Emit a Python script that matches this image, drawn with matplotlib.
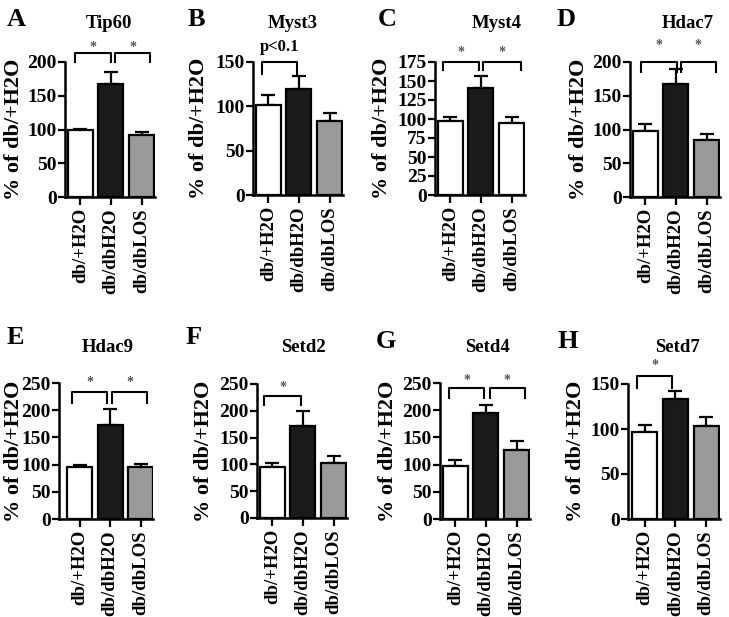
import matplotlib
matplotlib.use('Agg')
import matplotlib.pyplot as plt

plt.rcParams['font.family'] = 'Liberation Serif'
plt.rcParams['font.weight'] = 'bold'

# ---- datos ----
groups = ['db/+H2O', 'db/dbH2O', 'db/dbLOS']
letters = ['A', 'B', 'C', 'D', 'E', 'F', 'G', 'H']
genes = ['Tip60', 'Myst3', 'Myst4', 'Hdac7', 'Hdac9', 'Setd2', 'Setd4', 'Setd7']

tip60 = [99, 167, 92]
tip60_err = [2, 18, 4]
myst3 = [102, 120, 83]
myst3_err = [11, 14, 9]
myst4 = [97, 141, 95]
myst4_err = [6, 15, 8]
hdac7 = [98, 168, 85]
hdac7_err = [10, 21, 9]
hdac9 = [95, 173, 96]
hdac9_err = [5, 29, 6]
setd2 = [95, 171, 102]
setd2_err = [8, 28, 13]
setd4 = [97, 194, 127]
setd4_err = [12, 16, 17]
setd7 = [97, 133, 103]
setd7_err = [8, 9, 10]

means = [tip60, myst3, myst4, hdac7, hdac9, setd2, setd4, setd7]
errs = [tip60_err, myst3_err, myst4_err, hdac7_err, hdac9_err, setd2_err, setd4_err, setd7_err]
ytops = [200, 150, 175, 200, 250, 250, 250, 150]
ysteps = [50, 50, 25, 50, 50, 50, 50, 50]

# corchetes: (x1, x2, y_patas, y_barra, texto, y_texto)
brackets = [
    [(-0.17, 1.0, 200, 213, '*', 222), (1.14, 2.29, 200, 213, '*', 222)],
    [(-0.2, 0.94, 136, 150, 'p<0.1', 158)],
    [(-0.24, 0.95, 164, 175, '*', 187), (1.08, 2.3, 164, 175, '*', 187)],
    [(-0.15, 1.02, 185, 200, '*', 225), (1.15, 2.32, 185, 200, '*', 225)],
    [(-0.25, 0.9, 214, 233, '*', 250), (1.07, 2.22, 214, 233, '*', 250)],
    [(-0.27, 0.95, 211, 228, '*', 244)],
    [(-0.2, 0.95, 223, 241, '*', 255), (1.12, 2.27, 223, 241, '*', 255)],
    [(-0.25, 0.9, 146, 159, '*', 171)],
]

W, H = 729, 617
fig = plt.figure(figsize=(W / 100, H / 100), dpi=100)

# posiciones en pixeles: (izq, arriba, abajo, ancho, xmin)
pos = [(65, 62, 197, 90, -0.5), (253, 62, 195, 90, -0.5),
       (435, 62, 195, 90, -0.5), (630, 62, 197, 90, -0.5),
       (59, 383, 519, 94, -0.67), (257, 384, 518, 90, -0.5),
       (440, 383, 519, 90, -0.5), (628, 384, 519, 92, -0.55)]
# borde derecho de la etiqueta del eje y
ylab_x = [24, 209, 392, 589, 24, 214, 398, 586]
letter_xy = [(16, 20), (196, 20), (387, 20), (566, 20),
             (15, 337), (194, 337), (386, 342), (568, 342)]
title_xy = [(109, 23), (293, 23), (497, 23), (688, 23),
            (108, 347), (303, 347), (487, 347), (677, 348)]

for i in range(8):
    l, t, b, w, x0 = pos[i]
    ax = fig.add_axes([l / W, 1 - b / H, w / W, (b - t) / H])
    colores = ['white', '#1a1a1a', '#9a9a9a']
    if genes[i] == 'Myst4':
        colores = ['white', '#1a1a1a', 'white']
    x = range(3)
    ax.bar(x, means[i], width=0.82, color=colores, edgecolor='black', linewidth=1.6, zorder=2)
    ax.errorbar(x, means[i], yerr=[[0, 0, 0], errs[i]], fmt='none', ecolor='black',
                elinewidth=1.6, capsize=5, capthick=1.6, zorder=1)
    ax.set_xlim(x0, x0 + 3 * w / 90 * 0.98)
    ax.set_ylim(0, ytops[i])
    ax.set_yticks(range(0, ytops[i] + 1, ysteps[i]))
    ax.set_xticks(list(x))
    ax.set_xticklabels(groups, rotation=90, fontsize=13.5, fontweight='bold')
    ax.tick_params(axis='y', labelsize=14, width=1.6, length=5, pad=1)
    ax.tick_params(axis='x', width=1.6, length=6, pad=2)
    for lab in ax.get_yticklabels():
        lab.set_fontweight('bold')
    for s in ['top', 'right']:
        ax.spines[s].set_visible(False)
    for s in ['left', 'bottom']:
        ax.spines[s].set_linewidth(1.8)
    ax.set_ylabel('% of db/+H2O', fontsize=16, fontweight='bold')
    ax.yaxis.set_label_coords((ylab_x[i] - l) / w, 0.5)

    for (x1, x2, yl, yb, txt, yt) in brackets[i]:
        ax.plot([x1, x1, x2, x2], [yl, yb, yb, yl], color='black', lw=1.5,
                clip_on=False, zorder=3)
        if txt == '*':
            ax.text((x1 + x2) / 2, yt, txt, ha='center', va='center', fontsize=10,
                    color='#555555', clip_on=False)
        else:
            ax.text((x1 + x2) / 2, yt, txt, ha='center', va='bottom', fontsize=12,
                    fontweight='bold', clip_on=False)

    fig.text(letter_xy[i][0] / W, 1 - letter_xy[i][1] / H, letters[i], fontsize=19,
             fontweight='bold', ha='center', va='center')
    fig.text(title_xy[i][0] / W, 1 - title_xy[i][1] / H, genes[i], fontsize=13.5,
             fontweight='bold', ha='center', va='center')

fig.savefig('out.png', dpi=100)
